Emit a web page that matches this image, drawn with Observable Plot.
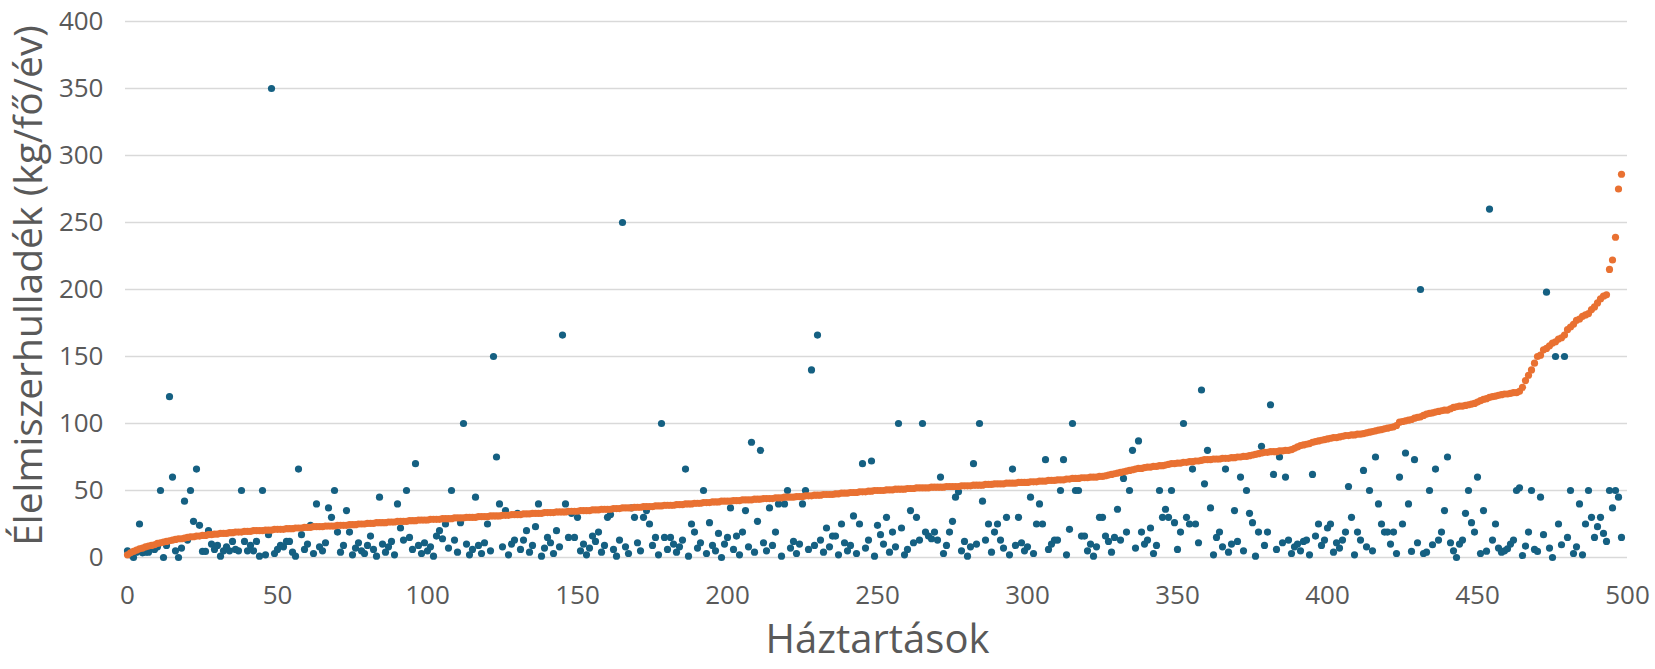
<!DOCTYPE html>
<html><head><meta charset="utf-8">
<script src="https://cdn.jsdelivr.net/npm/d3@7"></script>
<script src="https://cdn.jsdelivr.net/npm/@observablehq/plot@0.6"></script>
<style>body{margin:0;background:#fff;}</style>
</head><body><div id="chart"></div>
<script>
const xTicks = [0, 50, 100, 150, 200, 250, 300, 350, 400, 450, 500];
const yTicks = [0, 50, 100, 150, 200, 250, 300, 350, 400];
const xTitle = "Háztartások";
const yTitle = "Élelmiszerhulladék (kg/fő/év)";

// sorted series (orange), one value per household index 0..498
const sortedWaste = [
2, 3.5, 4.5, 5.5, 6.5, 7, 8, 8.5, 9, 9.5,
10.5, 11, 11.5, 12, 12.5, 13, 13.5, 14, 14, 14.5,
15, 15.5, 15.5, 16, 16, 16.5, 16.5, 17, 17, 17.5,
17.5, 18, 18, 18, 18.5, 18.5, 19, 19, 19, 19.5,
19.5, 19.5, 20, 20, 20, 20, 20.5, 20.5, 20.5, 21,
21, 21, 21, 21.5, 21.5, 21.5, 22, 22, 22, 22.5,
22.5, 22.5, 23, 23, 23, 23, 23.5, 23.5, 23.5, 23.5,
24, 24, 24, 24, 24.5, 24.5, 24.5, 25, 25, 25,
25.5, 25.5, 25.5, 26, 26, 26, 26, 26.5, 26.5, 26.5,
27, 27, 27, 27, 27.5, 27.5, 27.5, 28, 28, 28,
28, 28.5, 28.5, 28.5, 28.5, 29, 29, 29, 29, 29.5,
29.5, 29.5, 29.5, 30, 30, 30, 30, 30.5, 30.5, 30.5,
30.5, 31, 31, 31, 31, 31.5, 31.5, 31.5, 32, 32,
32, 32, 32.5, 32.5, 32.5, 33, 33, 33, 33, 33.5,
33.5, 33.5, 33.5, 34, 34, 34, 34, 34.5, 34.5, 34.5,
34.5, 35, 35, 35, 35, 35.5, 35.5, 35.5, 36, 36,
36, 36, 36.5, 36.5, 36.5, 37, 37, 37, 37, 37.5,
37.5, 37.5, 38, 38, 38, 38, 38.5, 38.5, 38.5, 39,
39, 39, 39, 39.5, 39.5, 39.5, 40, 40, 40, 40.5,
40.5, 40.5, 41, 41, 41, 41.5, 41.5, 41.5, 42, 42,
42, 42, 42.5, 42.5, 42.5, 43, 43, 43, 43, 43.5,
43.5, 43.5, 44, 44, 44, 44, 44.5, 44.5, 44.5, 45,
45, 45, 45, 45.5, 45.5, 45.5, 46, 46, 46, 46.5,
46.5, 46.5, 47, 47, 47, 47, 47.5, 47.5, 48, 48,
48, 48.5, 48.5, 48.5, 49, 49, 49, 49.5, 49.5, 50,
50, 50, 50, 50.5, 50.5, 50.5, 51, 51, 51, 51,
51.5, 51.5, 51.5, 52, 52, 52, 52, 52, 52.5, 52.5,
52.5, 52.5, 52.5, 53, 53, 53, 53, 53, 53.5, 53.5,
53.5, 53.5, 54, 54, 54, 54, 54.5, 54.5, 54.5, 55,
55, 55, 55, 55.5, 55.5, 55.5, 55.5, 56, 56, 56,
56, 56.5, 56.5, 56.5, 57, 57, 57, 57.5, 57.5, 57.5,
58, 58, 58, 58.5, 58.5, 59, 59, 59, 59.5, 59.5,
59.5, 60, 60, 60, 60.5, 60.5, 61, 61.5, 62, 62.5,
63, 63.5, 64, 64.5, 65, 65.5, 66, 66.5, 66.5, 67,
67.5, 67.5, 68, 68, 68.5, 68.5, 69, 69.5, 70, 70,
70.5, 70.5, 71, 71, 71.5, 71.5, 72, 72, 72.5, 73,
73, 73, 73.5, 73.5, 73.5, 74, 74, 74, 74.5, 74.5,
75, 75, 75.5, 75.5, 76, 76.5, 77, 77.5, 78, 78.5,
78.5, 79, 79, 79, 79.5, 79.5, 80, 80, 80.5, 81.5,
82.5, 83.5, 84, 84.5, 85, 86, 86.5, 87, 87.5, 88,
88.5, 89, 89.5, 89.5, 90, 90.5, 91, 91, 91.5, 91.5,
92, 92, 92.5, 93, 93.5, 94, 94.5, 95, 95.5, 96,
96.5, 97, 97.5, 98.5, 101, 101.5, 102, 102.5, 103, 104,
104.5, 105, 106, 107, 107.5, 108, 108.5, 109, 109.5, 110,
110, 111, 112, 112.5, 113, 113, 113.5, 114, 114.5, 115,
116, 117, 118, 118.5, 119.5, 120, 120.5, 121, 121.5, 122,
122, 122.5, 123, 123, 124, 127, 132, 136, 140, 145,
150, 151, 155, 156, 158, 160, 161, 163, 164, 166,
170, 172, 174, 177, 178, 180, 181, 182, 185, 187,
190, 193, 195, 196, 215, 222, 239, 275, 286
];

// per-household series (blue), same index order
const householdWaste = [
5, 2, 0, 4, 25, 3.5, 4, 4, 7, 6,
8, 50, 0, 9, 120, 60, 5, 0, 7, 42,
13, 50, 27, 66, 24, 4.5, 4.5, 20, 10, 6,
9, 1, 5, 8, 5, 12, 6, 5, 50, 12,
5, 9, 5, 12, 1, 50, 2, 17, 350, 3,
6, 9, 8, 12, 12, 4, 1, 66, 17, 6,
10, 24, 3, 40, 8, 5, 11, 37, 30, 50,
19, 4, 9, 35, 19, 2, 7, 11, 5, 3,
9, 16, 6, 1, 45, 10, 4, 8, 12, 2,
40, 22, 13, 50, 15, 6, 70, 9, 3, 11,
5, 8, 1, 16, 20, 14, 25, 7, 50, 13,
4, 26, 100, 10, 2, 6, 45, 9, 3, 11,
25, 5, 150, 75, 40, 8, 35, 2, 10, 13,
33, 6, 13, 20, 4, 9, 23, 40, 1, 7,
15, 11, 3, 20, 8, 166, 40, 15, 33, 15,
30, 5, 10, 2, 7, 16, 12, 19, 4, 9,
30, 32, 6, 1, 13, 250, 8, 3, 37, 30,
11, 5, 30, 35, 25, 9, 15, 2, 100, 15,
6, 15, 10, 4, 8, 13, 66, 1, 25, 19,
7, 11, 50, 3, 26, 9, 5, 18, 0, 10,
15, 37, 6, 16, 2, 19, 35, 8, 86, 4,
27, 80, 11, 5, 37, 9, 19, 40, 1, 40,
50, 7, 12, 3, 10, 40, 50, 6, 140, 9,
166, 13, 4, 22, 8, 16, 16, 2, 25, 11,
5, 9, 31, 3, 25, 70, 7, 13, 72, 1,
24, 17, 10, 30, 4, 19, 8, 100, 22, 2,
6, 35, 11, 30, 13, 100, 19, 16, 14, 19,
13, 60, 3, 9, 19, 27, 45, 49, 5, 12,
1, 8, 70, 10, 100, 42, 13, 25, 4, 19,
25, 13, 7, 30, 2, 66, 9, 30, 11, 5,
8, 45, 3, 25, 40, 25, 73, 6, 10, 13,
13, 50, 73, 2, 21, 100, 50, 50, 16, 16,
5, 10, 1, 8, 30, 30, 16, 12, 4, 15,
36, 13, 59, 19, 50, 80, 7, 87, 19, 10,
13, 22, 3, 9, 50, 30, 36, 30, 50, 26,
6, 19, 100, 30, 25, 66, 25, 11, 125, 55,
80, 37, 2, 15, 19, 8, 66, 4, 10, 35,
12, 60, 5, 50, 33, 26, 1, 19, 83, 9,
19, 114, 62, 6, 75, 11, 60, 13, 3, 8,
10, 5, 12, 13, 2, 62, 16, 25, 9, 13,
22, 25, 4, 11, 7, 13, 19, 53, 30, 2,
19, 13, 65, 8, 50, 5, 75, 40, 25, 19,
19, 10, 19, 3, 60, 25, 78, 40, 4.5, 73,
11, 200, 3, 4, 50, 9.5, 66, 13, 19, 35,
75, 11, 5, 0, 10, 13, 33, 50, 26, 19,
60, 3, 35, 4.7, 260, 13, 25, 7, 4, 5,
6.5, 10, 13, 50, 52, 1.5, 8.5, 19, 50, 6,
4.5, 45, 17, 198, 7, 0, 150, 25, 9.5, 150,
15, 50, 3, 8, 40, 2, 25, 50, 30, 15,
23, 30, 18, 12, 50, 37, 50, 45, 15
];

const blueData = householdWaste.map((v, i) => ({household: i, waste: v}));
const orangeData = sortedWaste.map((v, i) => ({household: i, waste: v}));

const chart = Plot.plot({
  width: 1655,
  height: 669,
  marginLeft: 127,
  marginRight: 28,
  marginTop: 21,
  marginBottom: 112,
  style: {fontFamily: "'Open Sans', sans-serif", color: "#595959", background: "#ffffff", overflow: "visible"},
  x: {domain: [0, 500]},
  y: {domain: [0, 400]},
  marks: [
    Plot.gridY(yTicks, {stroke: "#d9d9d9", strokeOpacity: 1, strokeWidth: 1.6, insetLeft: -2}),
    Plot.axisY(yTicks, {tickSize: 0, tickPadding: 24, fontSize: 26, label: null, fill: "#595959"}),
    Plot.axisX(xTicks, {tickSize: 0, tickPadding: 28, fontSize: 26, label: null, fill: "#595959"}),
    Plot.dot(blueData, {x: "household", y: "waste", r: 3.6, fill: "#156082", stroke: "none"}),
    Plot.dot(orangeData, {x: "household", y: "waste", r: 3.6, fill: "#E97132", stroke: "none"}),
    Plot.text([yTitle], {frameAnchor: "left", textAnchor: "middle", dx: -98, dy: -4, rotate: -90, fontSize: 39, fill: "#595959"}),
    Plot.text([xTitle], {frameAnchor: "bottom", textAnchor: "middle", dy: 95, fontSize: 40, fill: "#595959"})
  ]
});
document.getElementById("chart").appendChild(chart);
</script>
</body></html>
